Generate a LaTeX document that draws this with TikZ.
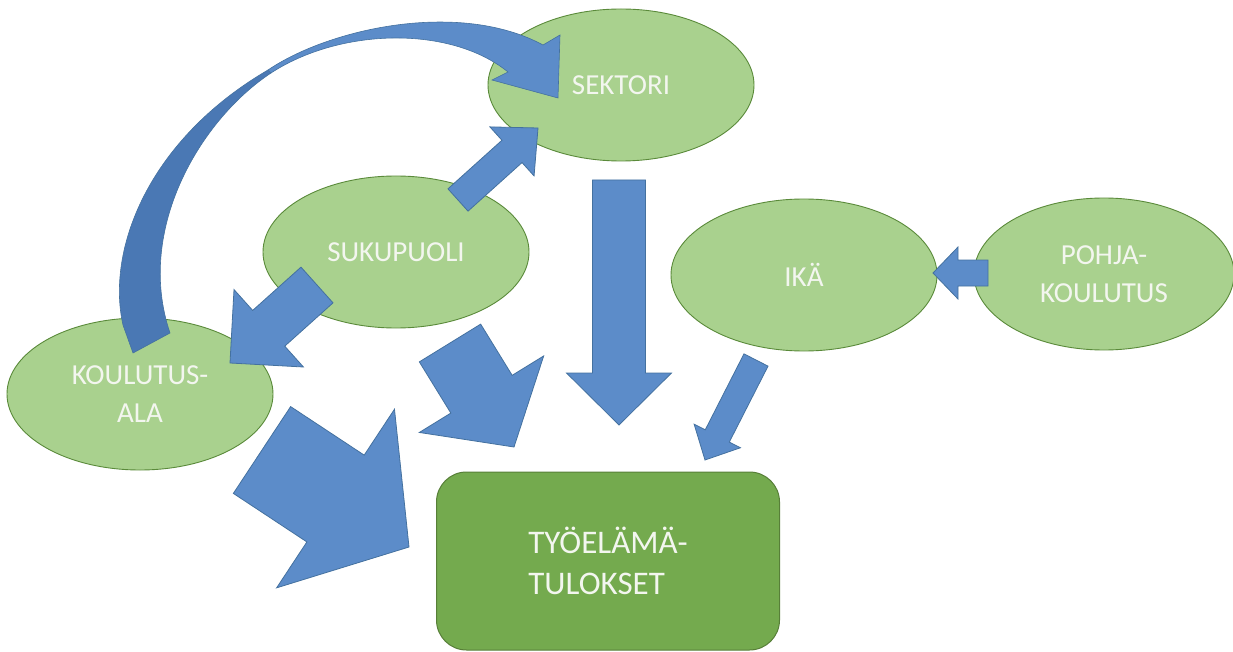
\documentclass[tikz,border=0pt]{standalone}
\usepackage{fontspec}
\setmainfont{Carlito}
\usetikzlibrary{calc, shapes.geometric}

\definecolor{leaf}{HTML}{A9D18E}
\definecolor{leafline}{HTML}{5A8A3A}
\definecolor{box}{HTML}{74AA4E}
\definecolor{boxline}{HTML}{577F38}
\definecolor{arrowblue}{HTML}{5C8CC9}
\definecolor{arrowline}{HTML}{44719F}
\definecolor{curveback}{HTML}{4A78B4}
\definecolor{label}{HTML}{F3F6EF}

\newcommand{\blockarrow}[5]{%
  \coordinate (base) at ($(#2)!#5!(#1)$);
  \draw[block] ($(#1)!#3!90:(#2)$) -- ($(base)!#3!90:(#2)$) -- ($(base)!#4!90:(#2)$)
    -- (#2) -- ($(base)!#4!-90:(#2)$) -- ($(base)!#3!-90:(#2)$) -- ($(#1)!#3!-90:(#2)$) -- cycle;
}

\begin{document}
\begin{tikzpicture}[x=1pt, y=-1pt,
    oval/.style={ellipse, draw=leafline, fill=leaf, line width=0.9pt, minimum width=266pt,
      minimum height=152pt, inner sep=0pt, text=label, align=center, font=\fontsize{29}{38}\selectfont},
    result/.style={rectangle, rounded corners=30pt, draw=boxline, fill=box, line width=1pt,
      minimum width=343pt, minimum height=178pt, text=label, align=left, font=\fontsize{33}{41}\selectfont},
    block/.style={fill=arrowblue, draw=arrowline, line width=0.8pt}]
  \useasboundingbox (0,0) rectangle (1233,652);

  \node[oval] (sektori) at (621,85) {SEKTORI};
  \node[oval] (sukupuoli) at (396,252) {SUKUPUOLI};
  \node[oval] (ala) at (140,394) {KOULUTUS-\\ALA};
  \node[oval] (ika) at (804,275) {IKÄ};
  \node[oval, minimum width=260pt] (pohja) at (1104,274) {POHJA-\\KOULUTUS};
  \node[result] (tulos) at (608,561) {TYÖELÄMÄ-\\TULOKSET};

  \coordinate (suk-out) at (458,200);
  \coordinate (sek-in) at (538,128);
  \coordinate (suk-down) at (317,285);
  \coordinate (ala-in) at (230,363);
  \coordinate (ala-out) at (262,450);
  \coordinate (tulos-a) at (409,547);
  \coordinate (suk-low) at (450,343);
  \coordinate (tulos-b) at (514,447);
  \coordinate (sek-out) at (619,180);
  \coordinate (tulos-c) at (619,425);
  \coordinate (ika-out) at (756,360);
  \coordinate (tulos-d) at (705,460);
  \coordinate (pohja-out) at (988,273);
  \coordinate (ika-in) at (933,273);

  \blockarrow{suk-out}{sek-in}{15pt}{33pt}{35pt}
  \blockarrow{suk-down}{ala-in}{24pt}{52pt}{52pt}
  \blockarrow{ala-out}{tulos-a}{52pt}{107pt}{88pt}
  \blockarrow{suk-low}{tulos-b}{36pt}{73pt}{62pt}
  \blockarrow{sek-out}{tulos-c}{26.5pt}{52.5pt}{52pt}
  \blockarrow{ika-out}{tulos-d}{13.5pt}{26pt}{27pt}
  \blockarrow{pohja-out}{ika-in}{13pt}{26pt}{25pt}

  \draw[fill=curveback, draw=arrowline, line width=0.6pt] (123,325) .. controls (106,250) and (148,140) .. (268,70)
    -- (271,73) .. controls (200,120) and (135,230) .. (170,333) -- (133,353) -- cycle;
  \draw[block, line width=0.6pt] (268,70) .. controls (330,28) and (460,0) .. (543,45) -- (560,35) -- (558,98)
    -- (492,80) -- (508,72) .. controls (450,25) and (340,28) .. (271,73) -- cycle;
\end{tikzpicture}
\end{document}
